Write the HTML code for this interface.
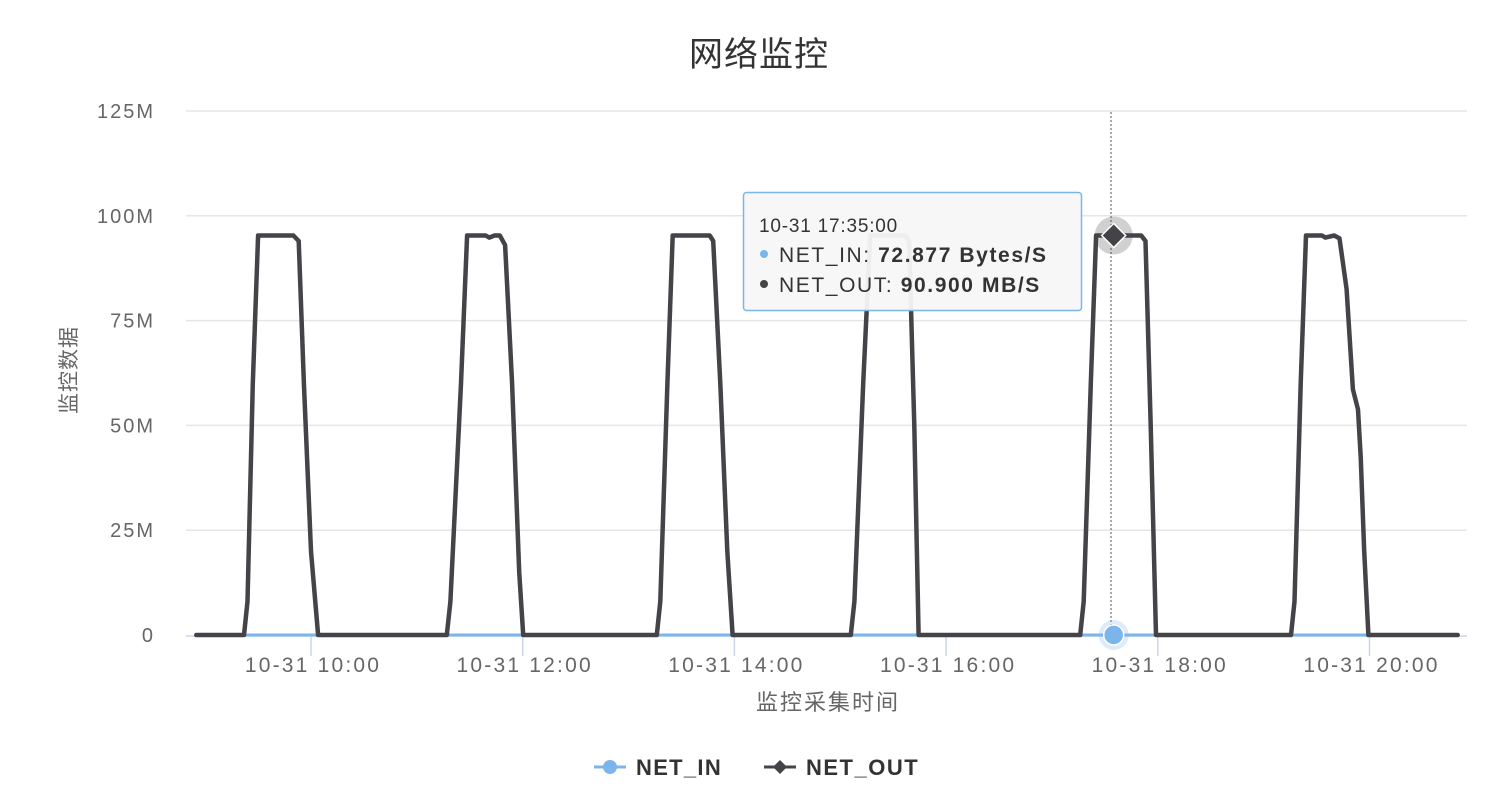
<!DOCTYPE html>
<html><head><meta charset="utf-8">
<style>
html,body{margin:0;padding:0;background:#fff;}
svg{display:block;font-family:"Liberation Sans","Noto Sans CJK SC",sans-serif;}
</style></head>
<body>
<svg id="chart" width="1496" height="786" viewBox="0 0 1496 786">
  <text x="759" y="66" text-anchor="middle" font-size="34" letter-spacing="1" fill="#333">网络监控</text>
  <g id="grid"></g>
  <g id="yticks"></g>
  <g id="xticks"></g>
  <text transform="translate(76,370) rotate(-90)" text-anchor="middle" font-size="21" letter-spacing="1" fill="#666">监控数据</text>
  <text x="828" y="710" text-anchor="middle" font-size="22" letter-spacing="2" fill="#666">监控采集时间</text>
  <line x1="1111" y1="112" x2="1111" y2="635" stroke="#555" stroke-width="1" stroke-dasharray="2,2"/>
  <g id="series"></g>
  <g id="hover"></g>
  <g>
    <rect x="743.5" y="192.5" width="338" height="118" rx="3" fill="#f7f7f7" fill-opacity="0.95" stroke="#7cb5ec" stroke-width="1.5"/>
    <text x="759" y="232" font-size="19" letter-spacing="0.8" fill="#333">10-31 17:35:00</text>
    <circle cx="764" cy="254" r="4" fill="#7cb5ec"/>
    <text x="779" y="262" font-size="21" letter-spacing="1.6" fill="#333">NET_IN: <tspan font-weight="bold">72.877 Bytes/S</tspan></text>
    <circle cx="764" cy="284" r="4" fill="#434348"/>
    <text x="779" y="292" font-size="21" letter-spacing="1.6" fill="#333">NET_OUT: <tspan font-weight="bold">90.900 MB/S</tspan></text>
  </g>
  <g>
    <g>
      <line x1="594" y1="767" x2="626" y2="767" stroke="#7cb5ec" stroke-width="3"/>
      <circle cx="610" cy="767" r="7" fill="#7cb5ec"/>
      <text x="636" y="775" font-size="22" letter-spacing="1.3" font-weight="bold" fill="#333">NET_IN</text>
    </g>
    <g>
      <line x1="764" y1="767" x2="796" y2="767" stroke="#434348" stroke-width="3"/>
      <path d="M780 760 L787 767 L780 774 L773 767 Z" fill="#434348"/>
      <text x="806" y="775" font-size="22" letter-spacing="1.5" font-weight="bold" fill="#333">NET_OUT</text>
    </g>
  </g>
</svg>
<script>
// minutes relative to 10-31 10:00
const outTimes = [-65,-38,-36,-33,-30,-10,-7,-4,0,4,
  77,79,85,88.5,99,101,104,107,110,114,118,120.3,
  196,198,202,205,226,228,232,236,239,
  306,308,313,317,337,339,342,344.4,
  436,438,442,445,470.6,473,476,479,
  555.5,557.5,561,564,573,575,580,583,587,590.6,593.5,595,597,599.4,650];
const outValues = [0,0,8,60,95.3,95.3,94,60,20,0,
  0,8,60,95.3,95.3,94.8,95.3,95.3,93,60,15,0,
  0,8,60,95.3,95.3,94,60,20,0,
  0,8,60,95.3,95.3,94,50,0,
  0,8,60,95.3,95.3,94,50,0,
  0,8,60,95.3,95.3,94.8,95.3,94.6,82.5,58.6,53.8,42.5,20,0,0];
const inTimes = [-65,650];
const inValues = [0,0];
const yTicks = [0,25,50,75,100,125];
const yTickLabels = ["0","25M","50M","75M","100M","125M"];
const xTicks = [0,120,240,360,480,600];
const xTickLabels = ["10-31 10:00","10-31 12:00","10-31 14:00","10-31 16:00","10-31 18:00","10-31 20:00"];
const hoverTime = 455;
const hoverOut = 95.3;
const hoverIn = 0;

const NS="http://www.w3.org/2000/svg";
const xs = t => 311 + t*211.7/120;
const ys = v => 635 - v*(524/125);
function mk(tag, attrs, parent){const e=document.createElementNS(NS,tag);for(const k in attrs)e.setAttribute(k,attrs[k]);parent.appendChild(e);return e;}
const grid=document.getElementById('grid'), yt=document.getElementById('yticks'), xt=document.getElementById('xticks');
yTicks.forEach((v,i)=>{
  if(v>0){const l=mk('line',{x1:186,x2:1467,y1:ys(v),y2:ys(v),stroke:'#e6e6e6','stroke-width':1.5},grid);
  
  }
  const t=mk('text',{x:155,y:ys(v)+7,'text-anchor':'end','font-size':20,'letter-spacing':2,fill:'#666'},yt);
  t.textContent=yTickLabels[i];
  
  
});
const ax=mk('line',{x1:186,x2:1467,y1:636,y2:636,stroke:'#ccd6eb','stroke-width':1.5},xt);


xTicks.forEach((v,i)=>{
  const l=mk('line',{x1:xs(v),x2:xs(v),y1:636,y2:656,stroke:'#ccd6eb','stroke-width':1.5},xt);
  
  
  const t=mk('text',{x:xs(v)+2,y:672,'text-anchor':'middle','font-size':21,'letter-spacing':2.2,fill:'#666'},xt);
  t.textContent=xTickLabels[i];
  
  
});
const ser=document.getElementById('series');
function pathOf(ts,vs){return ts.map((t,i)=>(i?'L':'M')+xs(t).toFixed(1)+' '+ys(vs[i]).toFixed(1)).join(' ');}
const pin=mk('path',{d:pathOf(inTimes,inValues),fill:'none',stroke:'#7cb5ec','stroke-width':3},ser);


const pout=mk('path',{d:pathOf(outTimes,outValues),fill:'none',stroke:'#434348','stroke-width':4.5,'stroke-linejoin':'round','stroke-linecap':'round'},ser);


const hv=document.getElementById('hover');
const hx=xs(hoverTime), hyo=ys(hoverOut), hyi=ys(hoverIn);
const h1=mk('circle',{cx:hx,cy:hyi,r:15,fill:'#7cb5ec','fill-opacity':0.25},hv);


const h2=mk('circle',{cx:hx,cy:hyi,r:10,fill:'#7cb5ec',stroke:'#fff','stroke-width':1.5},hv);


const h3=mk('circle',{cx:hx,cy:hyo,r:19,fill:'#434348','fill-opacity':0.25},hv);


const h4=mk('path',{d:`M${hx} ${hyo-12} L${hx+12} ${hyo} L${hx} ${hyo+12} L${hx-12} ${hyo} Z`,fill:'#434348',stroke:'#fff','stroke-width':1.5},hv);


</script>
</body></html>
